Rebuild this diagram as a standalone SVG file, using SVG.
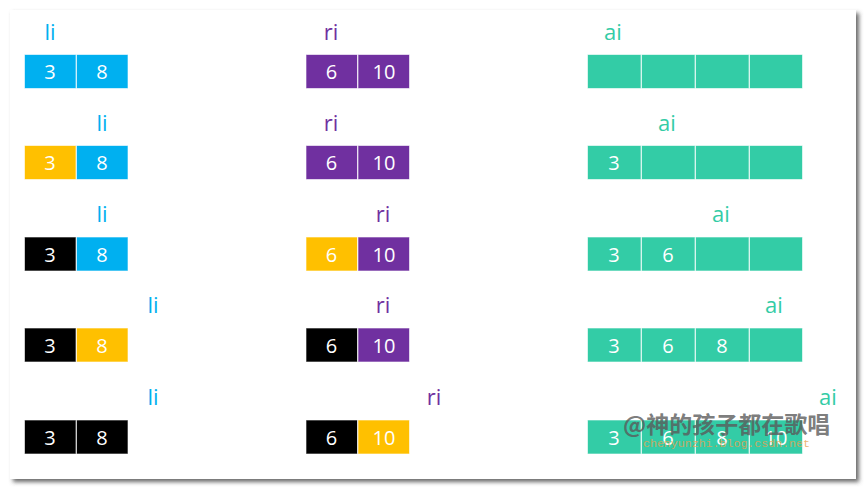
<svg xmlns="http://www.w3.org/2000/svg" width="867" height="490" viewBox="0 0 867 490">
<defs>
<filter id="sh" x="-5%" y="-5%" width="110%" height="110%">
<feDropShadow dx="3" dy="3" stdDeviation="2" flood-color="#444" flood-opacity="0.8"/>
</filter>
<style>
.c{stroke:#fff;stroke-opacity:0.6;stroke-width:1}
.b{fill:#00B0F0}.p{fill:#7030A0}.y{fill:#FFC000}.k{fill:#000}.t{fill:#33CCA6}
.d{font-family:"Open Sans","Liberation Sans",sans-serif;font-size:20px;fill:#fff;text-anchor:middle}
.l{font-family:"Open Sans","Liberation Sans",sans-serif;font-size:22px;text-anchor:middle}
.lb{fill:#00B0F0}.lp{fill:#7030A0}.lt{fill:#33CCA6}
</style>
</defs>
<rect width="867" height="490" fill="#fff"/>
<rect x="10" y="10" width="846" height="469" fill="#fff" filter="url(#sh)"/>
<g id="connectors"/>

<!-- Row 1 -->
<g id="li1"><text class="l lb" x="50" y="40">li</text></g>
<g id="L1"><rect class="c b" x="24.5" y="54.5" width="51.5" height="34"/><rect class="c b" x="76.5" y="54.5" width="51.5" height="34"/>
<text class="d" x="50" y="79">3</text><text class="d" x="102" y="79">8</text></g>
<g id="ri1"><text class="l lp" x="331" y="40">ri</text></g>
<g id="R1"><rect class="c p" x="306" y="54.5" width="51.5" height="34"/><rect class="c p" x="358" y="54.5" width="51.5" height="34"/>
<text class="d" x="331.5" y="79">6</text><text class="d" x="384" y="79">10</text></g>
<g id="ai1"><text class="l lt" x="613" y="40">ai</text></g>
<g id="A1"><rect class="c t" x="587.5" y="54.5" width="53.5" height="34"/><rect class="c t" x="641.5" y="54.5" width="53.5" height="34"/><rect class="c t" x="695.5" y="54.5" width="53.5" height="34"/><rect class="c t" x="749.5" y="54.5" width="53" height="34"/></g>

<!-- Row 2 -->
<g id="li2"><text class="l lb" x="102" y="131">li</text></g>
<g id="L2"><rect class="c y" x="24.5" y="145.5" width="51.5" height="34"/><rect class="c b" x="76.5" y="145.5" width="51.5" height="34"/>
<text class="d" x="50" y="170">3</text><text class="d" x="102" y="170">8</text></g>
<g id="ri2"><text class="l lp" x="331" y="131">ri</text></g>
<g id="R2"><rect class="c p" x="306" y="145.5" width="51.5" height="34"/><rect class="c p" x="358" y="145.5" width="51.5" height="34"/>
<text class="d" x="331.5" y="170">6</text><text class="d" x="384" y="170">10</text></g>
<g id="ai2"><text class="l lt" x="667" y="131">ai</text></g>
<g id="A2"><rect class="c t" x="587.5" y="145.5" width="53.5" height="34"/><rect class="c t" x="641.5" y="145.5" width="53.5" height="34"/><rect class="c t" x="695.5" y="145.5" width="53.5" height="34"/><rect class="c t" x="749.5" y="145.5" width="53" height="34"/>
<text class="d" x="614" y="170">3</text></g>

<!-- Row 3 -->
<g id="li3"><text class="l lb" x="102" y="222">li</text></g>
<g id="L3"><rect class="c k" x="24.5" y="237" width="51.5" height="34"/><rect class="c b" x="76.5" y="237" width="51.5" height="34"/>
<text class="d" x="50" y="261.5">3</text><text class="d" x="102" y="261.5">8</text></g>
<g id="ri3"><text class="l lp" x="383" y="222">ri</text></g>
<g id="R3"><rect class="c y" x="306" y="237" width="51.5" height="34"/><rect class="c p" x="358" y="237" width="51.5" height="34"/>
<text class="d" x="331.5" y="261.5">6</text><text class="d" x="384" y="261.5">10</text></g>
<g id="ai3"><text class="l lt" x="721" y="222">ai</text></g>
<g id="A3"><rect class="c t" x="587.5" y="237" width="53.5" height="34"/><rect class="c t" x="641.5" y="237" width="53.5" height="34"/><rect class="c t" x="695.5" y="237" width="53.5" height="34"/><rect class="c t" x="749.5" y="237" width="53" height="34"/>
<text class="d" x="614" y="261.5">3</text><text class="d" x="668" y="261.5">6</text></g>

<!-- Row 4 -->
<g id="li4"><text class="l lb" x="153" y="313">li</text></g>
<g id="L4"><rect class="c k" x="24.5" y="328" width="51.5" height="34"/><rect class="c y" x="76.5" y="328" width="51.5" height="34"/>
<text class="d" x="50" y="352.5">3</text><text class="d" x="102" y="352.5">8</text></g>
<g id="ri4"><text class="l lp" x="383" y="313">ri</text></g>
<g id="R4"><rect class="c k" x="306" y="328" width="51.5" height="34"/><rect class="c p" x="358" y="328" width="51.5" height="34"/>
<text class="d" x="331.5" y="352.5">6</text><text class="d" x="384" y="352.5">10</text></g>
<g id="ai4"><text class="l lt" x="774" y="313">ai</text></g>
<g id="A4"><rect class="c t" x="587.5" y="328" width="53.5" height="34"/><rect class="c t" x="641.5" y="328" width="53.5" height="34"/><rect class="c t" x="695.5" y="328" width="53.5" height="34"/><rect class="c t" x="749.5" y="328" width="53" height="34"/>
<text class="d" x="614" y="352.5">3</text><text class="d" x="668" y="352.5">6</text><text class="d" x="722" y="352.5">8</text></g>

<!-- Row 5 -->
<g id="li5"><text class="l lb" x="153" y="405">li</text></g>
<g id="L5"><rect class="c k" x="24.5" y="420" width="51.5" height="34"/><rect class="c k" x="76.5" y="420" width="51.5" height="34"/>
<text class="d" x="50" y="444.5">3</text><text class="d" x="102" y="444.5">8</text></g>
<g id="ri5"><text class="l lp" x="434" y="405">ri</text></g>
<g id="R5"><rect class="c k" x="306" y="420" width="51.5" height="34"/><rect class="c y" x="358" y="420" width="51.5" height="34"/>
<text class="d" x="331.5" y="444.5">6</text><text class="d" x="384" y="444.5">10</text></g>
<g id="ai5"><text class="l lt" x="828" y="405">ai</text></g>
<g id="A5"><rect class="c t" x="587.5" y="420" width="53.5" height="34"/><rect class="c t" x="641.5" y="420" width="53.5" height="34"/><rect class="c t" x="695.5" y="420" width="53.5" height="34"/><rect class="c t" x="749.5" y="420" width="53" height="34"/>
<text class="d" x="614" y="444.5">3</text><text class="d" x="668" y="444.5">6</text><text class="d" x="722" y="444.5">8</text><text class="d" x="776" y="444.5">10</text></g>

<!-- Watermark -->
<g id="watermark">
<text x="623" y="433" font-family="'Noto Sans CJK SC',sans-serif" font-size="23" font-weight="bold" fill="#5a5a5a" fill-opacity="0.8">@神的孩子都在歌唱</text>
<text x="643" y="447" font-family="'Liberation Mono',monospace" font-size="11.6" fill="#E8A050" fill-opacity="0.8">chenyunzhi.blog.csdn.net</text>
</g>
</svg>
